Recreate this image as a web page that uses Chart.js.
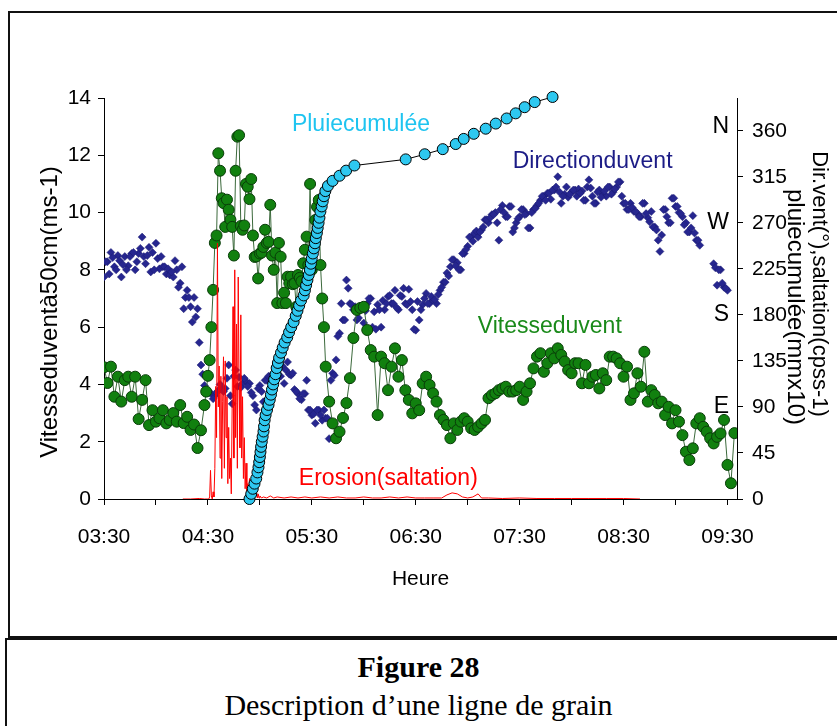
<!DOCTYPE html>
<html>
<head>
<meta charset="utf-8">
<script src="https://cdn.jsdelivr.net/npm/chart.js@4.4.1/dist/chart.umd.min.js"></script>
<style>
body { margin: 0; width: 837px; height: 726px; overflow: hidden; position: relative; background: #fff; }
#frame { position: absolute; left: 8px; top: 11px; width: 900px; height: 627px; border: 2px solid #111; box-sizing: border-box; }
#capBox { position: absolute; left: 5px; top: 638px; width: 900px; height: 120px; border: 2px solid #111; box-sizing: border-box; }
#chart { position: absolute; left: 0; top: 0; }
.cap { position: absolute; left: 0; width: 837px; text-align: center; font-family: "Liberation Serif", "Times New Roman", serif; color: #000; }
#cap1 { top: 650px; font-size: 30px; font-weight: bold; }
#cap2 { top: 688px; font-size: 30px; }
</style>
</head>
<body>
<div id="frame"></div>
<div id="capBox"></div>
<div class="cap" id="cap1">Figure 28</div>
<div class="cap" id="cap2">Description d’une ligne de grain</div>
<canvas id="chart" width="837" height="640"></canvas>
<script>
const FONT = '"Liberation Sans", Arial, sans-serif';

// time axis: minutes after 03:30
const hourLabels = ['03:30', '04:30', '05:30', '06:30', '07:30', '08:30', '09:30'];

// wind speed (m/s), left axis
// 03:30 -> 04:26, every 2 min
const speedA = [4.6, 4.05, 4.62, 3.57, 4.27, 3.4, 4.15, 4.27, 3.57, 4.27, 2.79, 3.46, 4.15, 2.58, 3.1,
  2.7, 2.82, 3.1, 2.64, 2.76, 3.0, 2.7, 3.28, 2.65, 2.87, 2.41, 2.6, 1.78, 2.4];
// 04:28 -> 05:38, every minute (gusts)
const speedB = [3.28, 3.75, 4.3, 4.85, 6.0, 7.3, 8.94, 9.2, 12.07, 11.46, 10.5, 10.33, 9.5, 10.45, 10.1,
  9.75, 9.5, 8.5, 11.46, 12.65, 12.7, 9.53, 9.4, 9.55, 11.0, 10.9, 10.47, 11.17, 9.2, 8.45,
  8.47, 7.7, 8.57, 8.6, 8.8, 9.4, 8.94, 8.98, 10.27, 8.5, 8.0, 8.6, 6.84, 8.94, 8.46,
  6.84, 7.2, 6.84, 7.76, 7.53, 7.76, 7.5, 7.53, 6.71, 7.82, 7.72, 7.6, 8.23, 8.7, 9.16,
  8.17, 11.0, 8.0, 8.17, 9.74, 10.2, 10.44, 8.17, 7.0, 6.0, 4.62];
// 05:40 -> 09:34, every 2 min
const speedC = [3.4, 2.64, 2.12, 2.35, 2.83, 3.35, 4.22, 5.62, 6.6, 6.67, 6.71, 5.9, 5.2, 4.97, 2.93,
  4.97, 4.74, 3.8, 4.62, 5.26, 4.27, 4.85, 3.8, 3.46, 2.99, 3.34, 3.1, 4.04, 4.27, 3.98,
  3.69, 3.4, 2.93, 2.76, 2.58, 2.12, 2.64, 2.41, 2.7, 2.82, 2.7, 2.47, 2.41, 2.52, 2.64,
  2.76, 3.52, 3.63, 3.69, 3.8, 3.86, 3.92, 3.75, 3.75, 3.8, 3.92, 3.46, 3.75, 4.04, 4.56,
  4.97, 5.09, 4.44, 4.74, 5.09, 4.91, 5.26, 5.03, 4.8, 4.5, 4.39, 4.74, 4.74, 4.04, 4.68,
  4.04, 4.27, 4.33, 3.86, 4.39, 4.15, 4.97, 4.97, 4.91, 4.74, 4.27, 4.62, 3.46, 3.69, 4.39,
  3.92, 5.14, 3.4, 3.8, 3.63, 3.34, 3.4, 2.93, 3.22, 2.64, 3.1, 2.7, 2.23, 1.65, 1.36,
  1.77, 2.64, 2.82, 2.52, 2.35, 2.12, 1.94, 2.17, 2.29, 2.76, 1.19, 0.55, 2.3];

// wind direction (deg), right axis
// even minutes from 03:30
const direction = [217, 232, 241, 227, 238, 217, 237, 228, 240, 224, 240, 256, 230, 246, 241,
  250, 225, 227, 220, 219, 217, 224, 211, 186, 204, 188, 197, 186, 131, 111,
  104, 103, 101, 106, 109, 108, 131, 93, 126, 119, 113, 115, 113, 101, 87,
  111, 95, 116, 120, 113, 126, 120, 113, 134, 121, 107, 103, 97, 103, 87,
  82, 74, 87, 77, 79, 59, 123, 136, 162, 175, 214, 191, 185, 175, 185,
  172, 191, 196, 183, 190, 168, 185, 198, 191, 204, 185, 198, 191, 205, 185,
  165, 175, 190, 201, 191, 195, 191, 204, 212, 221, 227, 234, 231, 224, 240,
  247, 256, 260, 256, 263, 273, 270, 278, 280, 253, 287, 276, 286, 261, 270,
  276, 283, 279, 265, 283, 287, 292, 296, 299, 293, 302, 315, 289, 298, 295,
  300, 302, 303, 301, 292, 312, 296, 289, 302, 298, 296, 305, 300, 305, 310,
  289, 283, 289, 281, 279, 276, 289, 275, 281, 266, 253, 258, 283, 270, 294,
  286, 280, 276, 270, 261, 277, 253, 248, null, null, null, 230, 209, 224, 207, 204];
// odd minutes from 03:31
const directionOdd = [232, 220, 236, 224, 233, 229, 224, 237, 241, 232, 245, 237, 238, 222, 224,
  235, 237, 227, 225, 222, 233, 207, 227, 197, 197, 173, 178, 153, 122, 106,
  104, 98, 104, 112, 105, 118, 101, 120, 110, 109, 118, 110, 104, 92, 108,
  105, 116, 120, 110, 120, 130, 130, 126, 122, 123, 105, 98, 103, 116, 87,
  83, 87, 82, 87, 79, 116, 121, 159, 191, 175, 206, 190, 188, 177, 187,
  184, 196, 168, 166, 185, 194, 191, 199, 191, 187, 199, 206, 190, 193, 166,
  193, 185, 196, 191, 198, 195, 200, 207, 212, 218, 234, 228, 224, 240, 244,
  256, 252, 262, 261, 266, 273, 275, 278, 270, 283, 280, 276, 286, 265, 274,
  283, 278, 265, 280, 284, 289, 296, 292, 299, 302, 305, 300, 296, 305, 298,
  302, 296, 299, 292, 305, 304, 289, 300, 295, 301, 305, 298, 303, 310, 296,
  289, 283, 285, 281, 276, 289, 279, 271, 266, 263, 242, 283, 276, 270, 294,
  286, 279, 268, 261, 265, 260, 253, null, null, null, null, 226, 224, 211, 206];

// cumulative rain (mm x10), right axis: one point per gauge tip
const rainTimes = [84, 85, 85.9, 86.9, 87.9, 88.6, 89.2, 89.6, 90, 90.35, 90.7, 91.1, 91.6, 92.1, 92.4,
  92.75, 93.3, 94.1, 95, 95.7, 96.4, 97, 97.65, 98.3, 99.05, 99.7, 100.4, 101.1, 102.2, 103.2,
  104.3, 105.8, 106.85, 108.1, 109.5, 110.7, 111.7, 112.7, 113.75, 115.3, 116, 116.7, 117.45, 118.2, 118.9,
  119.45, 119.95, 120.6, 121.2, 121.8, 122.3, 122.9, 123.4, 123.9, 124.4, 124.95, 125.7, 126.3, 127, 127.8,
  129.3, 132, 136, 139.8, 144.6, 174.2, 185.2, 195.6, 203.1, 207.7, 213.5, 220.4, 226.2, 232.5, 237.7,
  242.9, 248.7, 259];
const rainValues = [0, 5, 10, 15, 20, 26, 31, 36, 41, 46, 51, 56, 61, 66, 71,
  77, 82, 87, 92, 97, 102, 107, 112, 117, 122, 128, 133, 138, 143, 148,
  153, 158, 163, 168, 173, 179, 184, 189, 194, 199, 204, 209, 214, 219, 224,
  230, 235, 240, 245, 250, 255, 260, 265, 270, 275, 281, 286, 291, 296, 301,
  306, 311, 316, 321, 326, 332, 337, 342, 347, 352, 357, 362, 367, 372, 377,
  383, 388, 393];

// saltation (counts/s), right axis
const erosionTimes = [45.5, 50, 55, 58,
  60, 60.5, 61, 61.5, 62, 62.5, 63, 63.5, 64, 64.5, 65, 65.5, 66, 66.5, 67, 67.5,
  68, 68.5, 69, 69.5, 70, 70.5, 71, 71.5, 72, 72.5, 73, 73.5, 74, 74.5, 75, 75.5,
  76, 76.5, 77, 77.5, 78, 78.5, 79, 79.5, 80, 80.5, 81, 81.5, 82, 82.5, 83, 83.5,
  84, 84.5, 85, 85.5, 86, 86.5, 87, 87.5, 88, 88.5, 89, 89.5, 90,
  91, 92, 94, 96, 98, 100, 104, 108, 112, 116, 120,
  125, 130, 135, 140, 145, 150, 155, 160, 165, 170, 175, 180, 185, 190, 195,
  198, 201, 204, 207, 210, 213, 216, 218, 222,
  230, 240, 250, 260, 270, 280, 290, 300, 309.5];
const erosionValues = [0, 0, 0.5, 0,
  0, 0, 2, 28, 3, 0, 7, 2, 30, 110, 60, 250, 90, 130, 40, 120,
  20, 95, 139, 30, 135, 60, 100, 15, 70, 20, 40, 5, 90, 188, 40, 224,
  60, 171, 30, 217, 110, 50, 180, 40, 100, 20, 60, 10, 35, 5, 15, 2,
  20, 3, 10, 1, 6, 2, 12, 2, 8, 1, 5, 1, 3,
  1, 2, 1, 3, 1, 2, 1, 2, 1, 2, 1,
  2, 1, 2, 1, 1, 2, 1, 1, 2, 1, 2, 1, 1, 1, 1,
  4, 6, 5, 2, 1, 2, 5, 1, 1,
  0.5, 1, 0.5, 0.5, 0.5, 0.5, 0.5, 0.5, 0];

function seg(start, step, values) {
  return values.map((v, i) => ({ x: start + i * step, y: v }));
}
function pairs(times, values) {
  if (times.length !== values.length) throw new Error('length mismatch ' + times.length + ' ' + values.length);
  return times.map((t, i) => ({ x: t, y: values[i] }));
}

const speedData = seg(0, 2, speedA).concat(seg(58, 1, speedB), seg(130, 2, speedC));
const dirData = seg(0, 2, direction).concat(seg(1, 2, directionOdd));
const rainData = pairs(rainTimes, rainValues);
const erosionData = pairs(erosionTimes, erosionValues);

// text drawn on top of the plot
const textPlugin = {
  id: 'texts',
  afterDraw(chart) {
    const ctx = chart.ctx;
    const x = chart.scales.x, y = chart.scales.y, y2 = chart.scales.y2;
    const area = chart.chartArea;
    ctx.save();
    ctx.textBaseline = 'middle';

    // series names
    ctx.font = '23px ' + FONT;
    ctx.textAlign = 'left';
    ctx.fillStyle = '#1fc4f0';
    ctx.fillText('Pluiecumulée', x.getPixelForValue(108.5), y.getPixelForValue(13.06));
    ctx.fillStyle = '#1c1c86';
    ctx.fillText('Directionduvent', x.getPixelForValue(236), y.getPixelForValue(11.77));
    ctx.fillStyle = '#1a8a1a';
    ctx.fillText('Vitesseduvent', x.getPixelForValue(215.8), y.getPixelForValue(6.0));
    ctx.fillStyle = '#ff0000';
    ctx.fillText('Erosion(saltation)', x.getPixelForValue(112.5), y.getPixelForValue(0.7));

    // compass points next to the right axis
    ctx.fillStyle = '#000';
    ctx.textAlign = 'right';
    [['E', 90], ['S', 180], ['W', 270], ['N', 364]].forEach(([s, v]) => {
      ctx.fillText(s, area.right - 8, y2.getPixelForValue(v));
    });

    // axis titles
    ctx.font = '21px ' + FONT;
    ctx.textAlign = 'center';
    ctx.fillText('Heure', (area.left + area.right) / 2, 579);

    ctx.font = '24px ' + FONT;
    ctx.save();
    ctx.translate(50, 312);
    ctx.rotate(-Math.PI / 2);
    ctx.fillText('Vitesseduventà50cm(ms-1)', 0, 0);
    ctx.restore();

    ctx.font = '22px ' + FONT;
    ctx.save();
    ctx.translate(819, 284);
    ctx.rotate(Math.PI / 2);
    ctx.fillText('Dir.vent(°),saltation(cpss-1)', 0, 0);
    ctx.restore();

    ctx.font = '24px ' + FONT;
    ctx.save();
    ctx.translate(795, 307);
    ctx.rotate(Math.PI / 2);
    ctx.fillText('pluiecumulée(mmx10)', 0, 0);
    ctx.restore();

    ctx.restore();
  }
};

const tickFont = { family: FONT, size: 21 };

new Chart(document.getElementById('chart'), {
  type: 'line',
  data: {
    datasets: [
      {
        label: 'Direction du vent',
        data: dirData,
        yAxisID: 'y2',
        showLine: false,
        pointStyle: 'rectRot',
        pointRadius: 4,
        pointBackgroundColor: '#26268f',
        pointBorderColor: '#1a1a70',
        pointBorderWidth: 0.5,
        order: 4
      },
      {
        label: 'Vitesse du vent',
        data: speedData,
        yAxisID: 'y',
        borderColor: '#3b693b',
        borderWidth: 1,
        pointRadius: 5.5,
        pointBackgroundColor: '#11800f',
        pointBorderColor: '#093d09',
        pointBorderWidth: 1,
        order: 3
      },
      {
        label: 'Erosion (saltation)',
        data: erosionData,
        yAxisID: 'y2',
        borderColor: '#ff0000',
        borderWidth: 1,
        pointRadius: 0,
        order: 2
      },
      {
        label: 'Pluie cumulée',
        data: rainData,
        yAxisID: 'y2',
        borderColor: '#000',
        borderWidth: 1,
        pointRadius: 5.5,
        pointBackgroundColor: '#2ec8f0',
        pointBorderColor: '#000',
        pointBorderWidth: 1,
        clip: false,
        order: 1
      }
    ]
  },
  options: {
    responsive: false,
    animation: false,
    events: [],
    layout: { padding: { left: 0, right: 0, top: 98, bottom: 0 } },
    plugins: { legend: { display: false }, tooltip: { enabled: false } },
    scales: {
      x: {
        type: 'linear',
        min: 0,
        max: 365.5,
        border: { color: '#000', width: 1 },
        grid: { drawOnChartArea: false, drawTicks: true, tickLength: 6, color: '#000' },
        ticks: {
          stepSize: 30,
          includeBounds: false,
          autoSkip: false,
          maxRotation: 0,
          padding: 20,
          color: '#000',
          font: tickFont,
          callback: v => (v % 60 === 0 ? hourLabels[v / 60] : '')
        },
        afterFit: s => { s.height = 141; }
      },
      y: {
        position: 'left',
        min: 0,
        max: 14,
        border: { color: '#000', width: 1 },
        grid: { drawOnChartArea: false, tickLength: 6, color: '#000' },
        ticks: { stepSize: 2, padding: 7, color: '#000', font: tickFont },
        afterFit: s => { s.width = 104; }
      },
      y2: {
        position: 'right',
        min: 0,
        max: 392,
        border: { color: '#000', width: 1 },
        grid: { drawOnChartArea: false, tickLength: 6, color: '#000' },
        ticks: { stepSize: 45, includeBounds: false, padding: 9, color: '#000', font: tickFont },
        afterFit: s => { s.width = 100; }
      }
    }
  },
  plugins: [textPlugin]
});
</script>
</body>
</html>
